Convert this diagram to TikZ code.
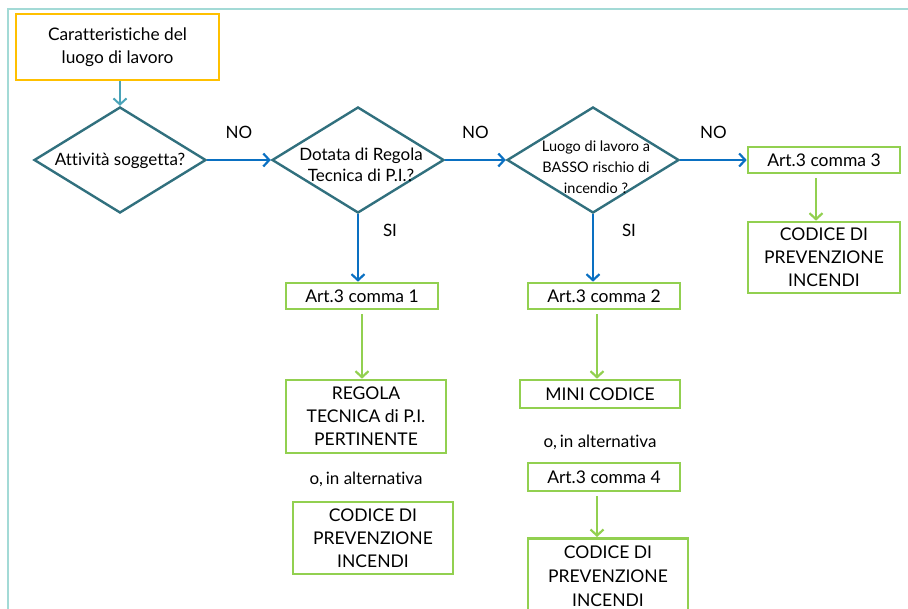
\documentclass[tikz,border=0pt]{standalone}
\usepackage{fontspec}
\setmainfont{Lato}[Ligatures=NoCommon]
\usetikzlibrary{shapes.geometric,arrows.meta}
\definecolor{frameC}{HTML}{A3DAD6}
\definecolor{orangeC}{HTML}{FFC000}
\definecolor{dteal}{HTML}{31707E}
\definecolor{lteal}{HTML}{4AA3B8}
\definecolor{blueC}{HTML}{0A70C2}
\definecolor{greenC}{HTML}{92D050}
\tikzset{
  gbox/.style={draw=greenC,line width=2.6pt,inner sep=0pt,align=center,font=\fontsize{17.5}{23}\selectfont},
  dia/.style={draw=dteal,line width=2.4pt,shape=diamond,inner sep=0pt,minimum width=172pt,minimum height=106pt},
  barrow/.style={draw=blueC,line width=2.6pt,-{Straight Barb[length=6pt,width=13pt,line width=2.2pt]}},
  garrow/.style={draw=greenC,line width=2.6pt,-{Straight Barb[length=6pt,width=13pt,line width=2.2pt]}},
  lbl/.style={font=\fontsize{17}{20}\selectfont,inner sep=0pt},
  dtext/.style={font=\fontsize{17}{21}\selectfont,align=center,inner sep=0pt},
}
\begin{document}
\begin{tikzpicture}[x=1pt,y=-1pt]
\useasboundingbox (0,0) rectangle (908,609);
\draw[frameC,line width=1.6pt] (8,609) -- (8,9) -- (908,9);
% start box
\node[draw=orangeC,line width=2.6pt,minimum width=203pt,minimum height=66pt,inner sep=0pt,align=center,font=\fontsize{17.3}{23}\selectfont] (start) at (117.5,47) {Caratteristiche del\\luogo di lavoro};
% diamonds
\node[dia] (d1) at (120,160) {};
\node[dtext] (t1) at (120,161) {Attività soggetta?};
\node[dia] (d2) at (358,160) {};
\node[dtext] (t2) at (361,165) {Dotata di Regola\\Tecnica di P.I.?};
\node[dia] (d3) at (593,160) {};
\node[dtext,font=\fontsize{14.5}{21}\selectfont] (t3) at (596,167) {Luogo di lavoro a\\BASSO rischio di\\incendio ?};
% boxes
\node[gbox,minimum width=152pt,minimum height=26pt] (a3) at (824,160) {Art.3 comma 3};
\node[gbox,minimum width=152pt,minimum height=71pt] (c3) at (824,257.5) {CODICE DI\\PREVENZIONE\\INCENDI};
\node[gbox,minimum width=152pt,minimum height=26pt] (a1) at (362,296) {Art.3 comma 1};
\node[gbox,minimum width=160pt,minimum height=73pt] (r1) at (366,416.5) {REGOLA\\TECNICA di P.I.\\PERTINENTE};
\node[lbl] (o1) at (366,479) {o,\,in alternativa};
\node[gbox,minimum width=160pt,minimum height=72pt] (c1) at (373,538) {CODICE DI\\PREVENZIONE\\INCENDI};
\node[gbox,minimum width=152pt,minimum height=26pt] (a2) at (604,296) {Art.3 comma 2};
\node[gbox,minimum width=160pt,minimum height=28pt] (m2) at (600,394) {MINI CODICE};
\node[lbl] (o2) at (600,442) {o,\,in alternativa};
\node[gbox,minimum width=152pt,minimum height=28pt] (a4) at (604,477) {Art.3 comma 4};
\node[gbox,minimum width=160pt,minimum height=72pt,anchor=north] (c4) at (608,537) {};
\node[lbl,align=center,font=\fontsize{17.5}{24}\selectfont] (c4t) at (608,576) {CODICE DI\\PREVENZIONE\\INCENDI};
% connectors
\draw[draw=lteal,line width=2.4pt,-{Straight Barb[length=6pt,width=13pt,line width=2pt]}] (start.south -| d1.north) -- (d1.north);
\draw[barrow] (d1.east) -- node[lbl,above=20pt] {NO} (d2.west);
\draw[barrow] (d2.east) -- node[lbl,above=20pt] {NO} (d3.west);
\draw[barrow] (d3.east) -- node[lbl,above=20pt] {NO} (a3.west);
\draw[barrow] (d2.south) -- (d2.south |- a1.north);
\node[lbl] (si1) at (390,230) {SI};
\draw[barrow] (d3.south) -- (d3.south |- a2.north);
\node[lbl] (si2) at (629,230) {SI};
\draw[garrow,shorten <=4pt] (a1.south) -- (r1.north -| a1.south);
\draw[garrow,shorten <=4pt] (a3.south -| 816,0) -- (c3.north -| 816,0);
\draw[garrow,shorten <=4pt] (a2.south -| 597,0) -- (m2.north -| 597,0);
\draw[garrow,shorten <=4pt] (a4.south -| 597,0) -- (c4.north -| 597,0);
\end{tikzpicture}
\end{document}
